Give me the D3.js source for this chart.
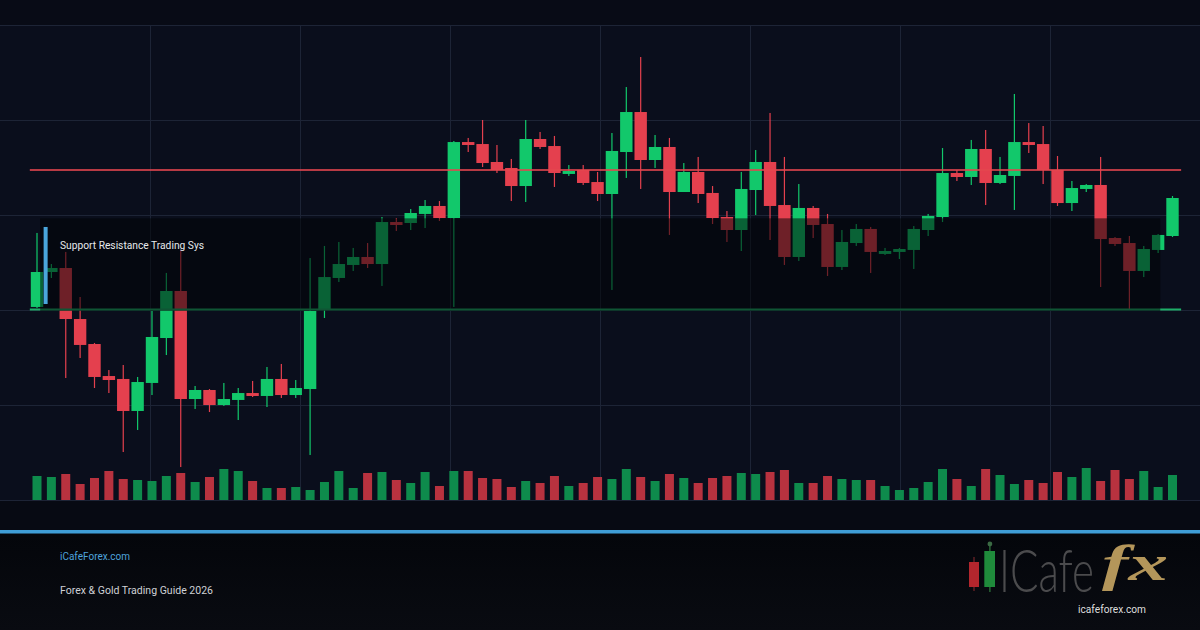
<!DOCTYPE html>
<html><head><meta charset="utf-8">
<script src="https://cdn.jsdelivr.net/npm/d3@7"></script>
<style>html,body{margin:0;padding:0;background:#070a12;overflow:hidden}</style>
</head><body><svg id="c" width="1200" height="630"></svg>
<script>
// ---------- DATA ----------
const opens = [2103.2,2140,2144.2,2090.5,2064.2,2030.5,2027.4,1993.7,2023.2,2070.5,
2120,2006.3,2015.8,2000,2005.3,2012.6,2009.5,2027.4,2010.5,2016.8,
2100,2133.7,2147.4,2155.8,2148.4,2192.6,2191.6,2201.1,2209.5,2196.8,
2276.8,2274.7,2255.8,2249.5,2230.5,2280,2272.6,2243.2,2247.4,2234.7,
2222.1,2266.3,2308.4,2257.9,2271.6,2224.2,2245.3,2223.2,2197.9,2184.2,
2226.3,2255.8,2210.5,2155.8,2207.4,2190.5,2145.3,2170.5,2185.3,2159,
2161.1,2163.2,2184.2,2197.9,2244.2,2240,2269.5,2233.7,2241.1,2276.8,
2274.7,2247.4,2212.6,2227.4,2231.6,2175.8,2170.5,2141.1,2163.2,2177.9];
const highs = [2181.1,2148.4,2161.1,2113.7,2065.3,2036.8,2042.1,2029.5,2099,2139,
2163.2,2020,2016.8,2023.2,2017.9,2025.3,2040,2043.2,2026.3,2154.7,
2167.4,2171.6,2165.3,2170.5,2197.9,2196.8,2206.3,2215.8,2214.7,2277.9,
2281.1,2300,2273.7,2259,2300,2287.4,2283.2,2252.6,2252.6,2245.3,
2286.3,2334.7,2366.3,2284.2,2281.1,2254.7,2261.1,2230.5,2204.2,2245.3,
2268.4,2307.4,2261.1,2232.6,2209.5,2201.1,2184.2,2190.5,2187.4,2165.3,
2165.3,2188.4,2201.1,2270.5,2247.4,2279,2289.5,2261.1,2327.4,2296.8,
2293.7,2262.1,2235.8,2232.6,2261.1,2176.8,2177.9,2167.4,2180,2220];
const lows = [2102.1,2133.7,2028.4,2049.5,2017.9,2012.6,1950.5,1973.7,2010.5,2052.6,
1934.7,1995.8,1992.6,1999,1984.2,2008.4,1997.9,2007.4,2007.4,1947.4,
2091.6,2129.5,2141.1,2144.2,2125.3,2183.2,2184.2,2186.3,2193.7,2103.2,
2266.3,2250.5,2244.2,2214.7,2213.7,2269.5,2229.5,2241.1,2231.6,2214.7,
2121.1,2239,2227.4,2249.5,2179,2224.2,2212.6,2190.5,2171.6,2162.1,
2200,2173.7,2147.4,2151.6,2175.8,2135.8,2142.1,2167.4,2139,2157.9,
2153.7,2143.2,2177.9,2192.6,2235.8,2231.6,2210.5,2232.6,2205.3,2265.3,
2232.6,2209.5,2204.2,2224.2,2124.2,2167.4,2100,2134.7,2160,2176.8];
const closes = [2140,2144.2,2090.5,2063.2,2029.5,2026.3,1993.7,2024.2,2071.6,2120,
2006.3,2015.8,2000,2006.3,2012.6,2009.5,2027.4,2010.5,2017.9,2099,
2134.7,2148.4,2155.8,2148.4,2192.6,2189.5,2202.1,2209.5,2196.8,2276.8,
2273.7,2254.7,2247.4,2230.5,2280,2271.6,2244.2,2246.3,2233.7,2222.1,
2267.4,2308.4,2257.9,2271.6,2224.2,2245.3,2222.1,2196.8,2184.2,2227.4,
2255.8,2209.5,2155.8,2207.4,2189.5,2145.3,2171.6,2185.3,2161.1,2162.1,
2164.2,2185.3,2199,2244.2,2240,2269.5,2233.7,2242.1,2276.8,2273.7,
2247.4,2212.6,2228.4,2231.6,2174.7,2169.5,2141.1,2164.2,2179,2217.9];
const volumes = [2400,2300,2600,1600,2200,2900,2100,2000,1900,2400,
2700,1800,2300,3100,2900,1900,1200,1200,1300,1000,
1800,2900,1200,2700,2800,2000,1700,2800,1400,2900,
2900,2200,2100,1300,1900,1700,2400,1400,1700,2300,
2100,3100,2300,1900,2600,2200,1700,2200,2400,2700,
2600,2800,3000,1700,1700,2400,2100,2000,2000,1400,
1000,1200,1800,3100,2100,1400,3100,2500,1600,2000,
1700,2800,2300,3200,1900,3000,2100,2900,1300,2500];
const priceTicks = [1900,2000,2100,2200,2300,2400];
const timeTicks = [1,2,3,4,5,6,7];
const resistanceLevel = 2247.4;
const supportLevel = 2100.5;
const zone = {from:0.22, to:78.15, top:2196.5, bottom:2099};
const marker = {at:0.6, top:2187.4, bottom:2106.3};
const zoneLabel = "Support Resistance Trading Sys";
const siteLabel = "iCafeForex.com";
const guideLabel = "Forex & Gold Trading Guide 2026";
const logoUrl = "icafeforex.com";

// ---------- SCALES ----------
const svg = d3.select("#c");
const n = opens.length;
const idx = d3.range(n);
const x = d3.scaleLinear().domain([0, n-1]).range([37, 1172.5]);
const y = d3.scaleLinear().domain([1900, 2400]).range([500, 25]);
const v = d3.scaleLinear().domain([0, 4000]).range([500, 460]);
const gx = d3.scaleLinear().domain([0, 8]).range([0, 1200]);

const BULL="#12c86b", BEAR="#e4404e", VBULL="#0e8b4c", VBEAR="#b8323f";

// ---------- BACKGROUND ----------
const defs = svg.append("defs");
const fg = defs.append("linearGradient").attr("id","foot").attr("x1",0).attr("y1",0).attr("x2",0).attr("y2",1);
fg.append("stop").attr("offset","0%").attr("stop-color","#04060b");
fg.append("stop").attr("offset","100%").attr("stop-color","#090b11");
svg.append("rect").attr("width",1200).attr("height",630).attr("fill","#070a13");
svg.append("rect").attr("x",0).attr("y",0).attr("width",1200).attr("height",25).attr("fill","#080b16");
svg.append("rect").attr("x",0).attr("y",25).attr("width",1200).attr("height",475).attr("fill","#0a0e1c");
svg.append("rect").attr("x",0).attr("y",500).attr("width",1200).attr("height",30).attr("fill","#070a13");
svg.append("rect").attr("x",0).attr("y",534).attr("width",1200).attr("height",96).attr("fill","url(#foot)");

// ---------- GRID ----------
const grid = svg.append("g").attr("stroke","#1d2436").attr("stroke-width",1);
grid.selectAll("line.h").data(priceTicks).join("line").attr("class","h")
  .attr("x1",0).attr("x2",1200).attr("y1",d=>Math.round(y(d))+0.5).attr("y2",d=>Math.round(y(d))+0.5);
grid.selectAll("line.v").data(timeTicks).join("line").attr("class","v")
  .attr("x1",d=>gx(d)+0.5).attr("x2",d=>gx(d)+0.5).attr("y1",y(2400)).attr("y2",y(1900));

// ---------- VOLUME ----------
svg.append("g").selectAll("rect").data(idx).join("rect")
  .attr("x",i=>x(i)-4.5).attr("width",9)
  .attr("y",i=>v(volumes[i])).attr("height",i=>v(0)-v(volumes[i]))
  .attr("fill",i=>closes[i]>=opens[i]?VBULL:VBEAR);

// ---------- CANDLES ----------
const cg = svg.append("g");
cg.selectAll("rect.w").data(idx).join("rect").attr("class","w")
  .attr("x",i=>x(i)-0.6).attr("width",1.2)
  .attr("y",i=>y(highs[i])).attr("height",i=>y(lows[i])-y(highs[i]))
  .attr("fill",i=>closes[i]>=opens[i]?BULL:BEAR);
cg.selectAll("rect.b").data(idx).join("rect").attr("class","b")
  .attr("x",i=>x(i)-6.2).attr("width",12.4)
  .attr("y",i=>y(Math.max(opens[i],closes[i])))
  .attr("height",i=>Math.max(1.5, Math.abs(y(opens[i])-y(closes[i]))))
  .attr("fill",i=>closes[i]>=opens[i]?BULL:BEAR);

// ---------- LEVELS ----------
svg.append("line").attr("x1",x(-0.5)).attr("x2",x(79.6))
  .attr("y1",y(resistanceLevel)).attr("y2",y(resistanceLevel))
  .attr("stroke","#e4464f").attr("stroke-opacity",0.8).attr("stroke-width",2);
svg.append("line").attr("x1",x(-0.5)).attr("x2",x(79.6))
  .attr("y1",y(supportLevel)).attr("y2",y(supportLevel))
  .attr("stroke","#1eae68").attr("stroke-width",2);

// ---------- ZONE OVERLAY ----------
svg.append("rect").attr("x",x(zone.from)).attr("width",x(zone.to)-x(zone.from))
  .attr("y",y(zone.top)).attr("height",y(zone.bottom)-y(zone.top))
  .attr("fill","#020306").attr("fill-opacity",0.52);
svg.append("rect").attr("x",x(marker.at)-2).attr("width",4)
  .attr("y",y(marker.top)).attr("height",y(marker.bottom)-y(marker.top))
  .attr("fill","#4aa6dc");
svg.append("text").attr("x",60).attr("y",249).text(zoneLabel)
  .attr("font-family","Roboto, 'Noto Sans', sans-serif").attr("font-size",11.5)
  .attr("fill","#e6e8ec").attr("textLength",144).attr("lengthAdjust","spacingAndGlyphs");

// ---------- FOOTER ----------
svg.append("rect").attr("x",0).attr("y",530).attr("width",1200).attr("height",3.5).attr("fill","#3f9dd6");
svg.append("text").attr("x",60).attr("y",560).text(siteLabel)
  .attr("font-family","Roboto, 'Noto Sans', sans-serif").attr("font-size",11)
  .attr("fill","#4ea3dc").attr("textLength",70).attr("lengthAdjust","spacingAndGlyphs");
svg.append("text").attr("x",60).attr("y",594).text(guideLabel)
  .attr("font-family","Roboto, 'Noto Sans', sans-serif").attr("font-size",11.5)
  .attr("fill","#cfd1d6").attr("textLength",153).attr("lengthAdjust","spacingAndGlyphs");

// logo
const lg = svg.append("g");
lg.append("rect").attr("x",973.5).attr("y",557).attr("width",1).attr("height",34).attr("fill","#8a2a2e");
lg.append("rect").attr("x",969).attr("y",562).attr("width",10).attr("height",25).attr("fill","#b3262d");
lg.append("rect").attr("x",989.3).attr("y",545).attr("width",1.2).attr("height",47).attr("fill","#2f7a3d");
lg.append("circle").attr("cx",989.9).attr("cy",544).attr("r",2.4).attr("fill","#3b6a44");
lg.append("rect").attr("x",984.3).attr("y",551).attr("width",10.7).attr("height",36).attr("fill","#1f8b3b");

function fitText(g, str, x0, yb, w, attrs){
  const t = g.append("text").attr("x",0).attr("y",0).text(str);
  Object.entries(attrs).forEach(([k,val])=>t.attr(k,val));
  const nat = t.node().getComputedTextLength();
  t.attr("transform",`translate(${x0},${yb}) scale(${w/nat},1)`);
  return t;
}
fitText(lg, "ICafe", 999, 592, 95, {"font-family":"Lato, 'Open Sans', sans-serif","font-weight":300,"font-size":60,"fill":"#4b4b4d"});
fitText(lg, "fx", 1102, 580, 66, {"font-family":"'Liberation Serif', 'DejaVu Serif', serif","font-style":"italic","font-weight":"bold","font-size":50,"fill":"#b4965a"});
lg.append("text").attr("x",1112).attr("y",613).attr("text-anchor","middle").text(logoUrl)
  .attr("font-family","Roboto, 'Noto Sans', sans-serif").attr("font-size",10.5)
  .attr("fill","#dedede").attr("textLength",68).attr("lengthAdjust","spacingAndGlyphs");
</script></body></html>
